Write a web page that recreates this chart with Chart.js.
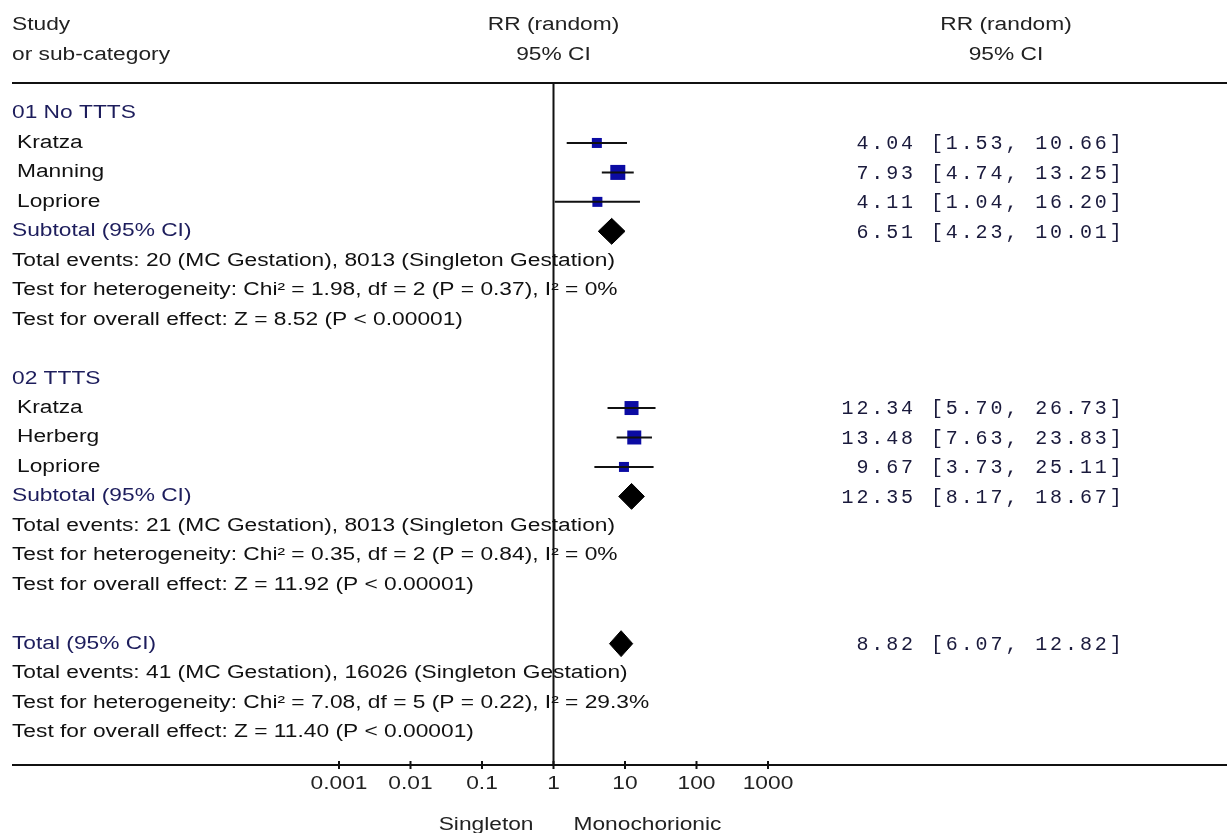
<!DOCTYPE html>
<html>
<head>
<meta charset="utf-8">
<script src="https://cdn.jsdelivr.net/npm/chart.js@4.4.1/dist/chart.umd.min.js"></script>
<style>
  html, body { margin: 0; padding: 0; background: #fff; }
  canvas { display: block; }
</style>
</head>
<body>
<canvas id="forest" width="1227" height="833"></canvas>
<script>
// Study level data (risk ratio, random effects)
const groupNames = ["01 No TTTS", "02 TTTS"];
const studyNames = ["Kratza", "Manning", "Lopriore", "Kratza", "Herberg", "Lopriore"];
const studyGroup = [0, 0, 0, 1, 1, 1];
const studyRR = [4.04, 7.93, 4.11, 12.34, 13.48, 9.67];
const studyLow = [1.53, 4.74, 1.04, 5.70, 7.63, 3.73];
const studyHigh = [10.66, 13.25, 16.20, 26.73, 23.83, 25.11];

// Pooled estimates: two subtotals then the overall total
const pooledNames = ["Subtotal (95% CI)", "Subtotal (95% CI)", "Total (95% CI)"];
const pooledRR = [6.51, 12.35, 8.82];
const pooledLow = [4.23, 8.17, 6.07];
const pooledHigh = [10.01, 18.67, 12.82];
const pooledStats = [
  ["Total events: 20 (MC Gestation), 8013 (Singleton Gestation)",
   "Test for heterogeneity: Chi\u00b2 = 1.98, df = 2 (P = 0.37), I\u00b2 = 0%",
   "Test for overall effect: Z = 8.52 (P < 0.00001)"],
  ["Total events: 21 (MC Gestation), 8013 (Singleton Gestation)",
   "Test for heterogeneity: Chi\u00b2 = 0.35, df = 2 (P = 0.84), I\u00b2 = 0%",
   "Test for overall effect: Z = 11.92 (P < 0.00001)"],
  ["Total events: 41 (MC Gestation), 16026 (Singleton Gestation)",
   "Test for heterogeneity: Chi\u00b2 = 7.08, df = 5 (P = 0.22), I\u00b2 = 29.3%",
   "Test for overall effect: Z = 11.40 (P < 0.00001)"]
];

const xTicks = [0.001, 0.01, 0.1, 1, 10, 100, 1000];
const favoursLeft = "Singleton";
const favoursRight = "Monochorionic";

// box sides in px (study weight), style only
const BOX_SIDE = [10, 15, 10, 14, 14, 10];
const DIAMOND_HALF = 0.44; // in row units

// ---- lay the rows out top to bottom ----
const textRows = [];   // {row, text, x, color}
const studyRow = [];
const pooledRow = [];
let r = 0;
groupNames.forEach((g, gi) => {
  textRows.push({ row: r++, text: g, x: 12, color: "#1d1d5c" });
  studyNames.forEach((s, si) => {
    if (studyGroup[si] !== gi) return;
    studyRow[si] = r;
    textRows.push({ row: r++, text: s, x: 17, color: "#111" });
  });
  pooledRow[gi] = r;
  textRows.push({ row: r++, text: pooledNames[gi], x: 12, color: "#1d1d5c" });
  pooledStats[gi].forEach(t => textRows.push({ row: r++, text: t, x: 12, color: "#111" }));
  r++; // blank line
});
pooledRow[2] = r;
textRows.push({ row: r++, text: pooledNames[2], x: 12, color: "#1d1d5c" });
pooledStats[2].forEach(t => textRows.push({ row: r++, text: t, x: 12, color: "#111" }));

function fmtCI(est, lo, hi) {
  return est.toFixed(2).padStart(5) + " [" + lo.toFixed(2) + ", " + hi.toFixed(2).padStart(5) + "]";
}

// ---- datasets ----
const datasets = [];
studyRR.forEach((v, i) => {
  datasets.push({
    type: "scatter",
    data: [{ x: studyLow[i], y: studyRow[i] }, { x: studyHigh[i], y: studyRow[i] }],
    showLine: true,
    borderColor: "#111",
    borderWidth: 2,
    pointRadius: 0,
    fill: false
  });
});
pooledRR.forEach((v, i) => {
  const y = pooledRow[i];
  datasets.push({
    type: "scatter",
    data: [
      { x: pooledLow[i], y: y },
      { x: v, y: y - DIAMOND_HALF },
      { x: pooledHigh[i], y: y },
      { x: v, y: y + DIAMOND_HALF },
      { x: pooledLow[i], y: y }
    ],
    showLine: true,
    borderColor: "#000",
    backgroundColor: "#000",
    borderWidth: 1,
    pointRadius: 0,
    fill: "shape"
  });
});
datasets.push({
  type: "scatter",
  data: studyRR.map((v, i) => ({ x: v, y: studyRow[i] })),
  pointStyle: "rect",
  pointRadius: BOX_SIDE.map(s => s / Math.SQRT2),
  pointBackgroundColor: "#0b0ba3",
  pointBorderColor: "#0b0ba3",
  pointBorderWidth: 0
});

// ---- text, rules and axis ----
const SANS = "18px 'Liberation Sans', Arial, sans-serif";
const MONO = "20px 'Liberation Mono', 'Courier New', monospace";

function stretchText(ctx, text, x, y, sx, align) {
  ctx.save();
  ctx.translate(x, y);
  ctx.scale(sx, 1);
  ctx.textAlign = align || "left";
  ctx.fillText(text, 0, 0);
  ctx.restore();
}

function spacedText(ctx, text, x0, y, pitch) {
  ctx.textAlign = "center";
  for (let k = 0; k < text.length; k++) {
    ctx.fillText(text[k], x0 + k * pitch, y);
  }
}

const forestPlugin = {
  id: "forest",
  beforeDraw(chart) {
    const ctx = chart.ctx;
    ctx.save();
    ctx.fillStyle = "#fff";
    ctx.fillRect(0, 0, chart.width, chart.height);
    ctx.restore();
  },
  beforeDatasetsDraw(chart) {
    const ctx = chart.ctx;
    const xs = chart.scales.x, ys = chart.scales.y;
    const xOne = xs.getPixelForValue(1);
    ctx.save();
    ctx.font = SANS;
    ctx.textBaseline = "middle";
    const sx = 603 / ctx.measureText(pooledStats[0][0]).width;

    // column headers
    ctx.fillStyle = "#222";
    stretchText(ctx, "Study", 12, 25, sx);
    stretchText(ctx, "or sub-category", 12, 55, sx);
    stretchText(ctx, "RR (random)", xOne, 25, sx, "center");
    stretchText(ctx, "95% CI", xOne, 55, sx, "center");
    stretchText(ctx, "RR (random)", 1006, 25, sx, "center");
    stretchText(ctx, "95% CI", 1006, 55, sx, "center");

    // left column text
    textRows.forEach(t => {
      ctx.fillStyle = t.color;
      stretchText(ctx, t.text, t.x, ys.getPixelForValue(t.row), sx);
    });

    // right column numbers
    ctx.font = MONO;
    ctx.fillStyle = "#1a1a3c";
    studyRR.forEach((v, i) => {
      spacedText(ctx, fmtCI(v, studyLow[i], studyHigh[i]), 847.5, ys.getPixelForValue(studyRow[i]) + 1, 14.9);
    });
    pooledRR.forEach((v, i) => {
      spacedText(ctx, fmtCI(v, pooledLow[i], pooledHigh[i]), 847.5, ys.getPixelForValue(pooledRow[i]) + 1, 14.9);
    });

    // rules
    ctx.strokeStyle = "#111";
    ctx.lineWidth = 2;
    ctx.beginPath();
    ctx.moveTo(12, chart.chartArea.top);
    ctx.lineTo(chart.width, chart.chartArea.top);
    ctx.moveTo(12, chart.chartArea.bottom);
    ctx.lineTo(chart.width, chart.chartArea.bottom);
    ctx.moveTo(xOne, chart.chartArea.top);
    ctx.lineTo(xOne, chart.chartArea.bottom);
    ctx.stroke();

    // x ticks and labels
    ctx.font = SANS;
    ctx.fillStyle = "#222";
    xTicks.forEach(v => {
      const px = xs.getPixelForValue(v);
      ctx.beginPath();
      ctx.moveTo(px, chart.chartArea.bottom - 4);
      ctx.lineTo(px, chart.chartArea.bottom + 4);
      ctx.stroke();
      stretchText(ctx, String(v), px, 784, sx, "center");
    });
    stretchText(ctx, favoursLeft, xOne - 20, 825, sx, "right");
    stretchText(ctx, favoursRight, xOne + 20, 825, sx, "left");
    ctx.restore();
  }
};

new Chart(document.getElementById("forest"), {
  type: "scatter",
  data: { datasets: datasets },
  options: {
    responsive: false,
    animation: false,
    layout: { padding: { left: 339, right: 459, top: 83, bottom: 68 } },
    plugins: { legend: { display: false }, tooltip: { enabled: false } },
    scales: {
      x: { type: "logarithmic", min: 0.001, max: 1000, display: false },
      y: { type: "linear", reverse: true, min: -1.036, max: 22.12, display: false }
    }
  },
  plugins: [forestPlugin]
});
</script>
</body>
</html>
